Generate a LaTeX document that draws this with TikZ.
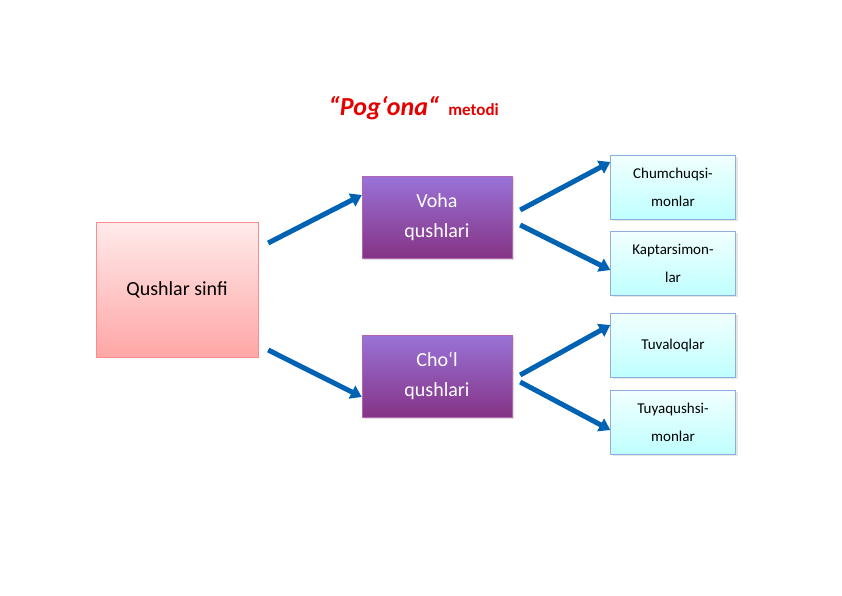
\documentclass[tikz,border=0pt]{standalone}
\usepackage{fontspec}
\setmainfont{Carlito}
\usetikzlibrary{arrows.meta,shadows}

\tikzset{
  box/.style={draw, minimum width=#1, align=center, inner sep=2pt},
  main/.style={box=162pt, minimum height=135pt, draw=red!45, top color=red!8, bottom color=red!35, font=\fontsize{20}{24}\selectfont},
  group/.style={box=150pt, minimum height=82pt, draw=violet!60!white, top color=violet!55!blue!55, bottom color=violet!80!black!80, text=white, font=\fontsize{20}{30}\selectfont, drop shadow={opacity=0.25}},
  leaf/.style={box=125pt, minimum height=64pt, draw=cyan!50!blue!45, top color=cyan!5, bottom color=cyan!25, font=\fontsize{15}{28}\selectfont, drop shadow={opacity=0.2}},
  blockarrow/.style={draw=blue!35!black!70, line width=5pt, color=blue!45!cyan!70!black, -{Triangle[length=11pt,width=14pt]}}
}

\begin{document}
\begin{tikzpicture}[x=1pt,y=-1pt]
\useasboundingbox (0,0) rectangle (842,596);
% title
\node (title) at (384,108) {\textcolor{red!90!black}{\bfseries\itshape\fontsize{26}{30}\selectfont ``Pog`ona``}};
\node[anchor=base west] (metodi) at ([xshift=2pt]title.base east) {\textcolor{red!90!black}{\bfseries\fontsize{17}{20}\selectfont metodi}};
% boxes
\node[main] (sinf) at (177,290) {Qushlar sinfi};
\node[group] (voha) at (437,217) {Voha\\qushlari};
\node[group] (chol) at (437,376) {Cho`l\\qushlari};
\node[leaf] (chum) at (673,187) {Chumchuqsi-\\monlar};
\node[leaf] (kapt) at (673,263) {Kaptarsimon-\\lar};
\node[leaf] (tuva) at (673,345) {Tuvaloqlar};
\node[leaf] (tuya) at (673,422) {Tuyaqushsi-\\monlar};
% arrows
\draw[blockarrow] ([xshift=10pt,yshift=47pt]sinf.east) -- ([yshift=22pt]voha.west);
\draw[blockarrow] ([xshift=10pt,yshift=-60pt]sinf.east) -- ([yshift=-21pt]chol.west);
\draw[blockarrow] ([xshift=8pt,yshift=7pt]voha.east) -- ([yshift=25pt]chum.west);
\draw[blockarrow] ([xshift=8pt,yshift=-8pt]voha.east) -- ([yshift=-7pt]kapt.west);
\draw[blockarrow] ([xshift=8pt,yshift=1pt]chol.east) -- ([yshift=20pt]tuva.west);
\draw[blockarrow] ([xshift=8pt,yshift=-6pt]chol.east) -- ([yshift=-8pt]tuya.west);
\end{tikzpicture}
\end{document}
